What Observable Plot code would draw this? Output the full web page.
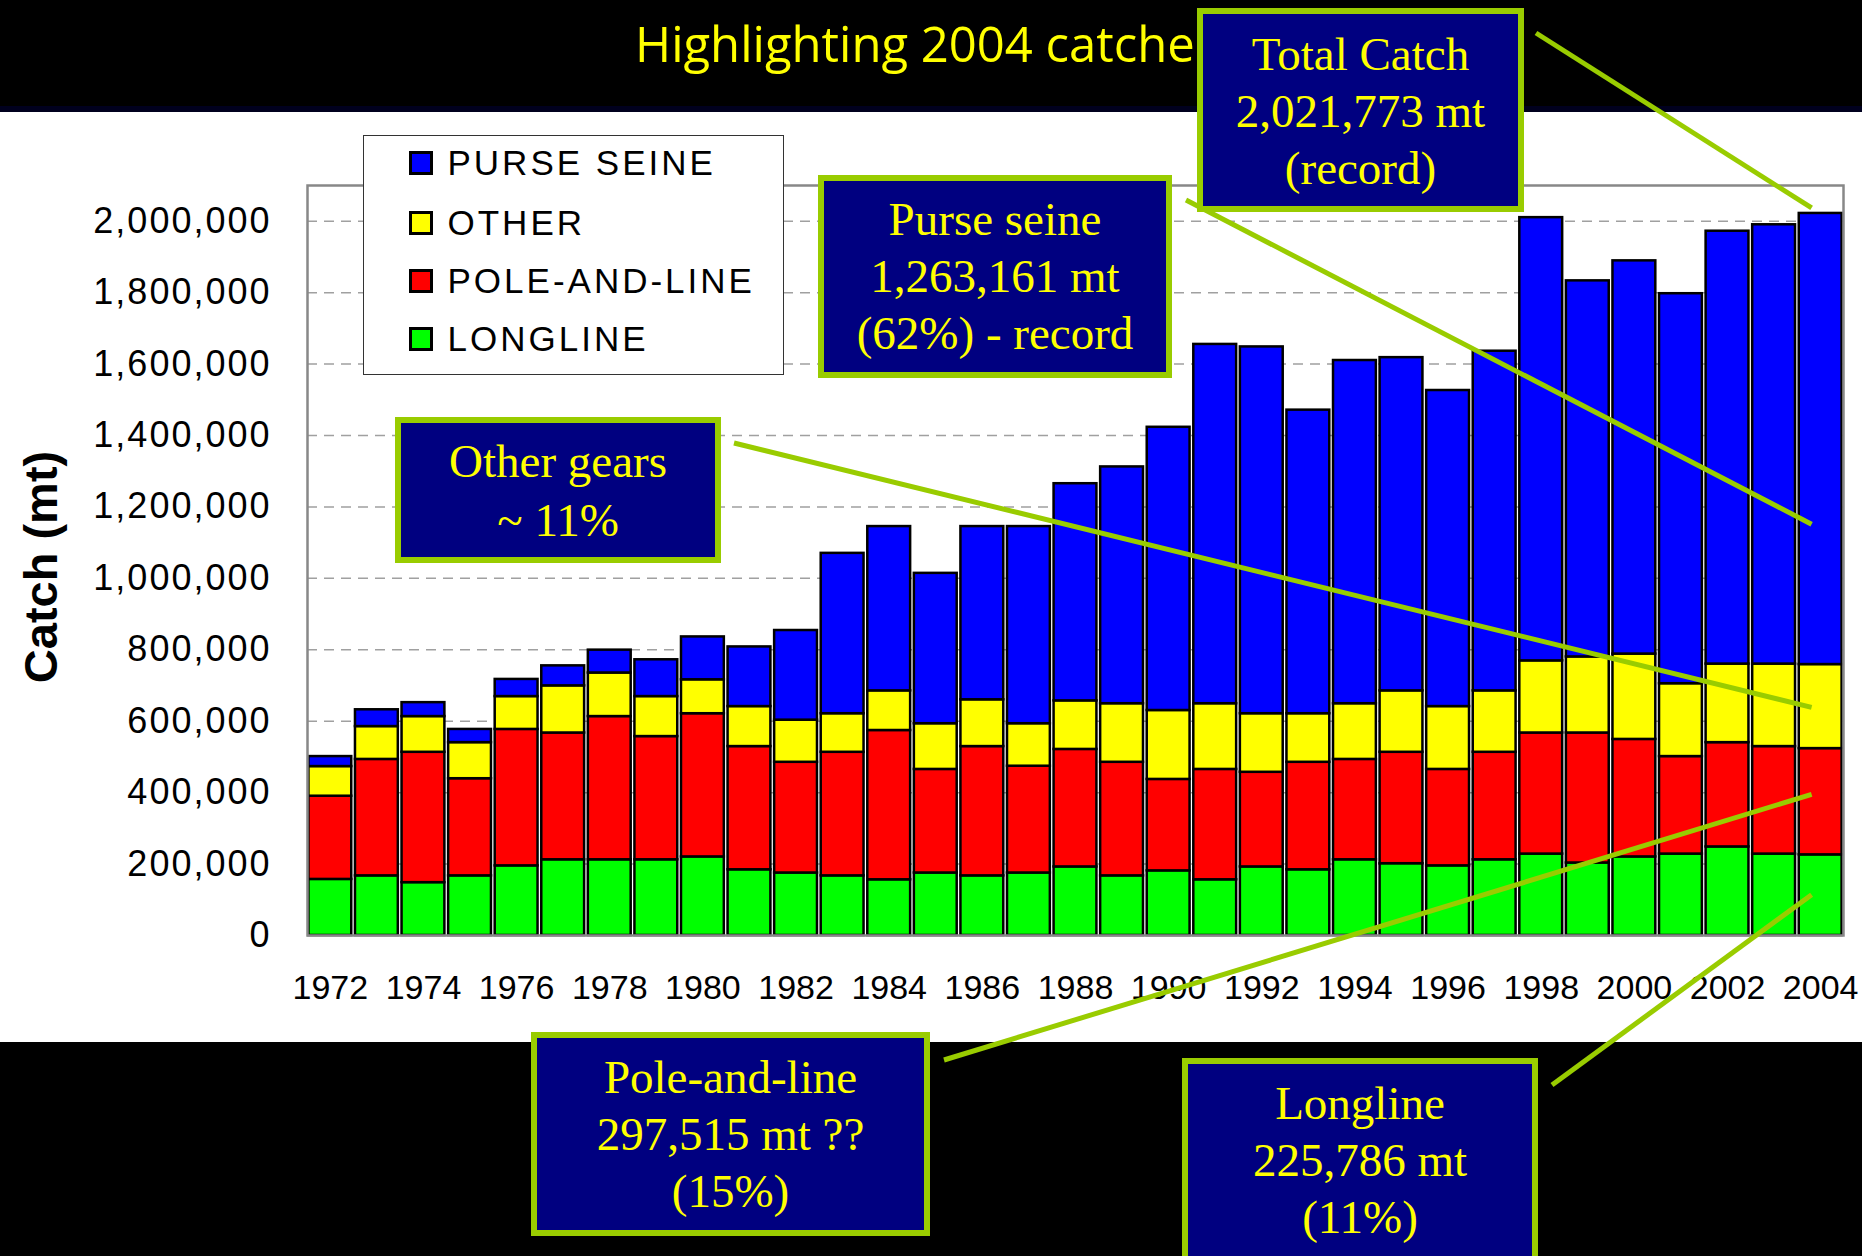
<!DOCTYPE html>
<html>
<head>
<meta charset="utf-8">
<script src="https://cdn.jsdelivr.net/npm/d3@7"></script>
<script src="https://cdn.jsdelivr.net/npm/@observablehq/plot@0.6"></script>
<style>
html,body{margin:0;padding:0;background:#000;overflow:hidden;}
#page{position:relative;width:1862px;height:1256px;overflow:hidden;background:#000;}
#strip{position:absolute;left:0;top:106px;width:1862px;height:6px;background:#00001e;}
#band{position:absolute;left:0;top:112px;width:1862px;height:930px;background:#fff;}
#chart{position:absolute;left:0;top:112px;width:1862px;height:930px;}
#ytitle{position:absolute;left:40px;top:567px;transform:translate(-50%,-50%) rotate(-90deg);font:bold 47px "Liberation Sans",Arial,sans-serif;white-space:nowrap;color:#000;}
#legend{position:absolute;left:363px;top:135px;width:421px;height:240px;box-sizing:border-box;border:1.5px solid #333;background:#fff;}
.lg-row{position:absolute;left:44.5px;height:30px;display:flex;align-items:center;font:35px "Liberation Sans",Arial,sans-serif;letter-spacing:3px;color:#000;white-space:nowrap;}
.sw{width:24px;height:24px;box-sizing:border-box;border:3px solid #000;margin-right:15px;flex:none;}
#overlay{position:absolute;left:0;top:0;}
.box{position:absolute;box-sizing:border-box;border:6px solid #99cc00;background:#000080;color:#ffff00;font-family:"Liberation Serif","Times New Roman",serif;font-size:47px;text-align:center;line-height:57px;white-space:nowrap;}
</style>
</head>
<body>
<div id="page">
  <div id="strip"></div>
  <div id="band"></div>
  <div id="chart"></div>
  <div id="ytitle">Catch (mt)</div>
  <div id="legend"></div>
  <svg id="overlay" width="1862" height="1256"></svg>
</div>
<script>
// ---------------- data (metric tonnes) ----------------
const years = [1972,1973,1974,1975,1976,1977,1978,1979,1980,1981,1982,1983,1984,1985,1986,1987,1988,1989,1990,1991,1992,1993,1994,1995,1996,1997,1998,1999,2000,2001,2002,2003,2004];
const longline = [157000,167000,148000,167000,195000,212000,212000,212000,220000,184000,175000,167000,156000,175000,167000,175000,192000,167000,181000,156000,192000,184000,212000,201000,195000,212000,228000,203000,220000,228000,248000,228000,225786];
const poleAndLine = [233000,326000,365000,272000,382000,355000,401000,345000,401000,345000,310000,346000,418000,290000,362000,299000,329000,318000,256000,309000,265000,301000,281000,312000,270000,301000,339000,364000,329000,273000,292000,301000,297515];
const other = [83000,92000,100000,101000,92000,132000,122000,112000,95000,112000,118000,108000,111000,128000,131000,119000,136000,164000,193000,184000,164000,136000,156000,172000,176000,172000,202000,213000,239000,204000,220000,231000,235311];
const purseSeine = [28000,47000,39000,37000,48000,56000,64000,103000,120000,167000,251000,449000,460000,421000,485000,552000,608000,663000,793000,1006000,1027000,850000,961000,933000,885000,951000,1241000,1053000,1101000,1092000,1212000,1230000,1263161];

const stackOrder = ["LONGLINE","POLE-AND-LINE","OTHER","PURSE SEINE"];
const seriesColors = ["#00ff00","#ff0000","#ffff00","#0000ff"];
const legendOrder = ["PURSE SEINE","OTHER","POLE-AND-LINE","LONGLINE"];

const yTicks = [0,200000,400000,600000,800000,1000000,1200000,1400000,1600000,1800000,2000000];
const gridValues = [200000,400000,600000,800000,1000000,1200000,1400000,1600000,1800000,2000000];
const xTickYears = [1972,1974,1976,1978,1980,1982,1984,1986,1988,1990,1992,1994,1996,1998,2000,2002,2004];

const titleText = "Highlighting 2004 catches";
const boxes = [
  {lines:["Total Catch","2,021,773 mt","(record)"], left:1197, top:8, width:327, height:204, pad:11.6, lh:57},
  {lines:["Purse seine","1,263,161 mt","(62%) - record"], left:818, top:175, width:354, height:203, pad:9.6, lh:57},
  {lines:["Other gears","~ 11%"], left:395, top:417, width:326, height:146, pad:9, lh:59},
  {lines:["Pole-and-line","297,515 mt ??","(15%)"], left:531, top:1032, width:399, height:204, pad:10.6, lh:57},
  {lines:["Longline","225,786 mt","(11%)"], left:1182, top:1058, width:356, height:215, pad:10.6, lh:57}
];

// ---------------- table ----------------
const seriesValues = {"LONGLINE": longline, "POLE-AND-LINE": poleAndLine, "OTHER": other, "PURSE SEINE": purseSeine};
const rows = [];
years.forEach((yr, i) => {
  for (const s of stackOrder) rows.push({year: yr, series: s, value: seriesValues[s][i]});
});

// ---------------- plot ----------------
const CHART_TOP = 112;
const plot = Plot.plot({
  width: 1862,
  height: 930,
  marginLeft: 307,
  marginRight: 19,
  marginTop: 73,
  marginBottom: 107,
  style: {background: "white", fontFamily: '"Liberation Sans", Arial, sans-serif', fontSize: "36px", color: "black", overflow: "visible"},
  x: {type: "band", domain: years, round: false, paddingInner: 0.08, paddingOuter: 0.03, ticks: xTickYears, tickFormat: d => String(d), tickSize: 0, tickPadding: 39, label: null},
  y: {domain: [0, 2100000], ticks: yTicks, tickFormat: d3.format(","), tickSize: 0, tickPadding: 36, label: null},
  color: {domain: stackOrder, range: seriesColors},
  marks: [
    Plot.ruleY(gridValues, {stroke: "#a0a0a0", strokeWidth: 1.5, strokeDasharray: "10,7"}),
    Plot.barY(rows, {x: "year", y: "value", fill: "series", stroke: "#000", strokeWidth: 2.5, order: stackOrder, inset: 0}),
    Plot.frame({stroke: "#888", strokeWidth: 2.5})
  ]
});
document.getElementById("chart").appendChild(plot);

const svgSel = d3.select(plot);
svgSel.selectAll('[aria-label^="x-axis"] text').style("font-size", "34px");
svgSel.selectAll('[aria-label^="y-axis"] text').style("font-size", "36px").style("letter-spacing", "2px");

// ---------------- legend ----------------
const legend = d3.select("#legend");
const rowCenters = [28.7, 88.2, 146.5, 204];
legendOrder.forEach((name, i) => {
  const r = legend.append("div").attr("class", "lg-row").style("top", (rowCenters[i] - 15 - 1.5) + "px");
  r.append("div").attr("class", "sw").style("background", seriesColors[stackOrder.indexOf(name)]);
  r.append("span").text(name);
});

// ---------------- annotation boxes ----------------
const page = d3.select("#page");
boxes.forEach(b => {
  const d = page.append("div").attr("class", "box")
    .style("left", b.left + "px").style("top", b.top + "px")
    .style("width", b.width + "px").style("height", b.height + "px")
    .style("padding-top", b.pad + "px").style("line-height", b.lh + "px")
    .style("z-index", 3);
  b.lines.forEach(t => d.append("div").text(t));
});

// ---------------- overlay: title + connectors anchored to the scales ----------------
const sx = plot.scale("x"), sy = plot.scale("y");
const xf = sx.apply ? (v => sx.apply(v)) :
  d3.scaleBand(sx.domain, sx.range).paddingInner(sx.paddingInner).paddingOuter(sx.paddingOuter).align(sx.align == null ? 0.5 : sx.align);
const bw = sx.bandwidth;
const yf = sy.apply ? (v => sy.apply(v)) : d3.scaleLinear(sy.domain, sy.range);

const li = years.length - 1;
const yr = years[li];
const cumLL = longline[li];
const cumPL = cumLL + poleAndLine[li];
const cumOT = cumPL + other[li];
const total = cumOT + purseSeine[li];

const connectors = [
  {from: [1536, 33],  value: total, dy: -5},
  {from: [1186, 200], value: cumOT + 0.31 * purseSeine[li], dy: 0},
  {from: [734, 443],  value: cumPL + 0.485 * other[li], dy: 0},
  {from: [944, 1060], value: cumLL + 0.565 * poleAndLine[li], dy: 0},
  {from: [1552, 1085], value: 0.5 * longline[li], dy: 0}
];

const ov = d3.select("#overlay").style("z-index", 2);
ov.append("text")
  .attr("x", 635).attr("y", 62)
  .attr("font-family", '"Comic Sans MS", "Open Sans", sans-serif')
  .attr("font-size", 49)
  .attr("fill", "#ffff00")
  .text(titleText);

connectors.forEach(c => {
  const x2 = xf(yr) + bw * 0.3;
  const y2 = CHART_TOP + yf(c.value) + c.dy;
  ov.append("line")
    .attr("x1", c.from[0]).attr("y1", c.from[1])
    .attr("x2", x2).attr("y2", y2)
    .attr("stroke", "#99cc00").attr("stroke-width", 5);
});
</script>
</body>
</html>
